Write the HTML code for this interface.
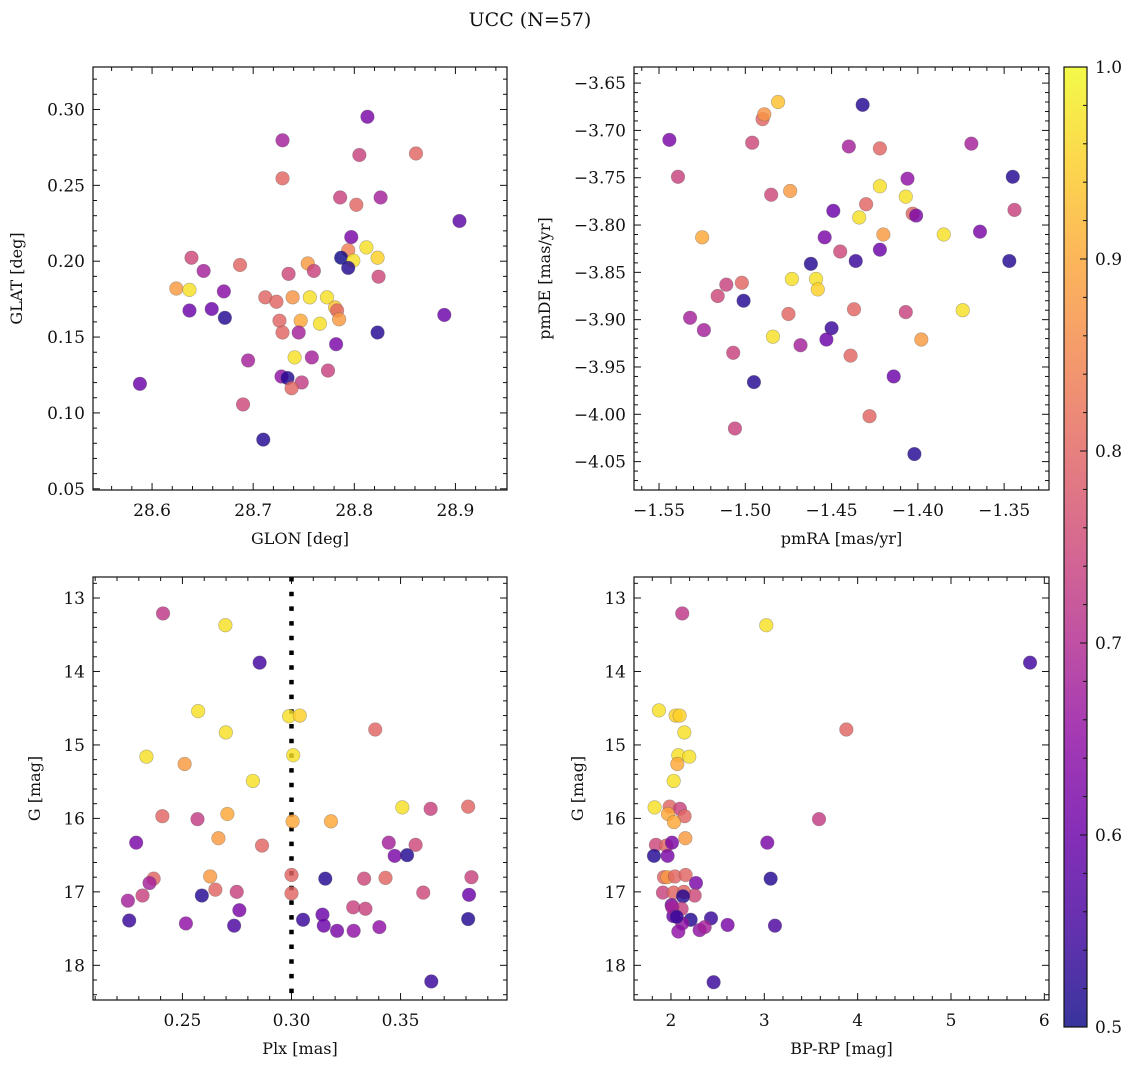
<!DOCTYPE html>
<html><head><meta charset="utf-8">
<style>
html,body{margin:0;padding:0;background:#fff;}
svg text{font-family:"DejaVu Serif","Liberation Serif",serif;fill:#111;}
</style></head>
<body>
<svg id="fig" width="1136" height="1067" viewBox="0 0 1136 1067" xmlns="http://www.w3.org/2000/svg">
<rect width="1136" height="1067" fill="#fff"/>
<text x="530" y="26" text-anchor="middle" font-size="19">UCC (N=57)</text>
</svg>
<script>
// ---- Panel 1: GLON vs GLAT ----
const p1Glon=[28.813,28.729,28.805,28.861,28.729,28.786,28.802,28.826,28.904,28.797,28.812,28.823,28.794,28.787,28.799,28.794,28.824,28.639,28.651,28.687,28.624,28.637,28.671,28.637,28.659,28.672,28.735,28.754,28.760,28.712,28.723,28.739,28.756,28.773,28.781,28.783,28.785,28.726,28.747,28.766,28.729,28.745,28.782,28.823,28.889,28.695,28.741,28.758,28.774,28.728,28.734,28.748,28.738,28.690,28.588,28.710];
const p1Glat=[0.2952,0.2797,0.2700,0.2710,0.2546,0.2420,0.2372,0.2420,0.2265,0.2159,0.2091,0.2023,0.2072,0.2023,0.2004,0.1956,0.1898,0.2023,0.1936,0.1975,0.1820,0.1811,0.1801,0.1675,0.1685,0.1627,0.1917,0.1985,0.1936,0.1762,0.1733,0.1762,0.1762,0.1762,0.1695,0.1675,0.1617,0.1608,0.1608,0.1588,0.1530,0.1530,0.1453,0.1530,0.1646,0.1346,0.1366,0.1366,0.1279,0.1240,0.1230,0.1201,0.1163,0.1056,0.1192,0.0824];
const p1Prob=[0.62,0.68,0.74,0.8,0.8,0.74,0.8,0.68,0.58,0.62,0.97,0.95,0.84,0.5,0.97,0.52,0.75,0.75,0.68,0.8,0.88,0.97,0.64,0.6,0.6,0.52,0.75,0.88,0.74,0.8,0.8,0.87,0.97,0.97,0.93,0.8,0.88,0.8,0.9,0.97,0.8,0.68,0.62,0.52,0.6,0.68,0.97,0.68,0.74,0.65,0.52,0.73,0.8,0.75,0.6,0.52];
// ---- Panel 2: pmRA vs pmDE ----
const p2PmRA=[-1.544,-1.539,-1.525,-1.511,-1.502,-1.516,-1.501,-1.532,-1.524,-1.507,-1.506,-1.496,-1.490,-1.489,-1.481,-1.485,-1.474,-1.495,-1.484,-1.475,-1.473,-1.468,-1.462,-1.459,-1.458,-1.454,-1.450,-1.453,-1.449,-1.445,-1.440,-1.439,-1.437,-1.436,-1.434,-1.432,-1.430,-1.428,-1.422,-1.422,-1.420,-1.422,-1.414,-1.406,-1.407,-1.403,-1.401,-1.407,-1.398,-1.402,-1.385,-1.374,-1.369,-1.364,-1.345,-1.347,-1.344];
const p2PmDE=[-3.710,-3.749,-3.813,-3.863,-3.861,-3.875,-3.880,-3.898,-3.911,-3.935,-4.015,-3.713,-3.688,-3.683,-3.670,-3.768,-3.764,-3.966,-3.918,-3.894,-3.857,-3.927,-3.841,-3.857,-3.868,-3.813,-3.909,-3.921,-3.785,-3.828,-3.717,-3.938,-3.889,-3.838,-3.792,-3.673,-3.778,-4.002,-3.719,-3.759,-3.810,-3.826,-3.960,-3.751,-3.770,-3.788,-3.790,-3.892,-3.921,-4.042,-3.810,-3.890,-3.714,-3.807,-3.749,-3.838,-3.784];
const p2Prob=[0.62,0.74,0.9,0.74,0.8,0.75,0.52,0.68,0.68,0.74,0.74,0.75,0.8,0.87,0.93,0.75,0.88,0.52,0.97,0.8,0.97,0.68,0.52,0.97,0.95,0.62,0.54,0.6,0.6,0.75,0.68,0.8,0.8,0.54,0.97,0.52,0.8,0.8,0.8,0.97,0.88,0.6,0.6,0.65,0.97,0.8,0.62,0.74,0.88,0.52,0.97,0.97,0.68,0.62,0.52,0.52,0.74];
// ---- Panel 3: Plx vs G ----
const p3Plx=[0.2411,0.2697,0.2854,0.2572,0.2699,0.2989,0.3038,0.3384,0.2335,0.2510,0.3008,0.2823,0.2408,0.2569,0.2706,0.3005,0.3181,0.3508,0.3638,0.3810,0.2288,0.2665,0.2865,0.3446,0.3569,0.3473,0.3530,0.2368,0.2349,0.2627,0.3000,0.3155,0.3333,0.3431,0.3825,0.2317,0.2250,0.2589,0.2651,0.2749,0.3000,0.3604,0.3814,0.2761,0.2256,0.2516,0.2737,0.3053,0.3142,0.3148,0.3209,0.3283,0.3339,0.3285,0.3403,0.3810,0.3641];
const p3G=[13.21,13.37,13.88,14.54,14.83,14.61,14.60,14.79,15.16,15.26,15.14,15.49,15.97,16.01,15.94,16.04,16.04,15.85,15.87,15.84,16.33,16.27,16.37,16.33,16.36,16.51,16.50,16.82,16.88,16.79,16.77,16.82,16.82,16.81,16.80,17.05,17.12,17.05,16.97,17.00,17.02,17.01,17.04,17.25,17.39,17.43,17.46,17.38,17.31,17.46,17.53,17.21,17.23,17.53,17.48,17.37,18.22];
const p3Prob=[0.72,0.97,0.55,0.97,0.97,0.97,0.95,0.8,0.97,0.88,0.97,0.97,0.8,0.73,0.9,0.9,0.9,0.97,0.74,0.8,0.62,0.88,0.8,0.68,0.75,0.62,0.52,0.8,0.68,0.88,0.8,0.52,0.75,0.8,0.74,0.74,0.68,0.52,0.8,0.74,0.8,0.75,0.6,0.62,0.54,0.65,0.56,0.54,0.6,0.6,0.62,0.74,0.74,0.65,0.65,0.52,0.54];
const plxCut=[0.30];
// ---- Panel 4: BP-RP vs G ----
const p4BpRp=[2.121,3.021,5.847,3.879,3.586,3.032,3.068,3.114,1.871,2.050,2.093,2.143,2.079,2.196,2.068,2.029,1.825,1.986,2.096,1.968,2.146,2.032,2.154,1.839,1.950,2.011,1.818,1.964,1.925,1.961,2.043,2.157,2.268,1.914,2.029,2.139,2.254,2.129,2.007,2.114,2.025,2.211,2.429,2.121,2.079,2.307,2.361,2.607,2.457,2.014,2.061];
const p4G=[13.21,13.37,13.88,14.79,16.01,16.33,16.82,17.46,14.53,14.60,14.60,14.83,15.14,15.16,15.26,15.49,15.85,15.84,15.87,15.94,15.97,16.05,16.27,16.36,16.37,16.33,16.51,16.51,16.80,16.80,16.79,16.77,16.88,17.01,17.01,17.00,17.05,17.06,17.18,17.23,17.33,17.38,17.36,17.43,17.54,17.52,17.48,17.45,18.23,17.21,17.34];
const p4Prob=[0.72,0.97,0.55,0.8,0.73,0.62,0.52,0.56,0.97,0.95,0.95,0.97,0.97,0.97,0.9,0.97,0.97,0.8,0.74,0.9,0.8,0.9,0.88,0.75,0.8,0.62,0.52,0.62,0.8,0.88,0.8,0.8,0.62,0.74,0.8,0.8,0.75,0.52,0.62,0.74,0.6,0.52,0.54,0.65,0.65,0.65,0.68,0.62,0.54,0.68,0.54];
// ---- colorbar ----
const cbTicks=[0.5,0.6,0.7,0.8,0.9,1.0];

const NS="http://www.w3.org/2000/svg";
const fig=document.getElementById('fig');
function mk(tag,attrs,parent){const e=document.createElementNS(NS,tag);for(const k in attrs)e.setAttribute(k,attrs[k]);(parent||fig).appendChild(e);return e;}
const stops=["#0d0887","#41049d","#6a00a8","#8f0da4","#b12a90","#cc4778","#e16462","#f2844b","#fca636","#fcce25","#f0f921"];
function hx(h){return [parseInt(h.substr(1,2),16),parseInt(h.substr(3,2),16),parseInt(h.substr(5,2),16)];}
function plasma(t){t=Math.max(0,Math.min(1,t));const f=t*10,i=Math.min(9,Math.floor(f)),r=f-i;const a=hx(stops[i]),b=hx(stops[i+1]);return 'rgb('+a.map((v,k)=>Math.round(v+(b[k]-v)*r)).join(',')+')';}
function cmap(p){return plasma((p-0.5)/0.5);}
function fmt(v,d){let s=v.toFixed(d);return s.replace('-','\u2212');}

function panel(o){
  const g=mk('g',{});
  
  
  const X=v=>o.L+(v-o.x0)/(o.x1-o.x0)*(o.R-o.L);
  const Y=v=>o.T+(v-o.y0)/(o.y1-o.y0)*(o.B-o.T);
  const tg=mk('g',{stroke:'#111','stroke-width':1},g);
  for(let v=Math.ceil(o.x0/o.xmin-1e-6)*o.xmin;v<=o.x1+1e-9;v+=o.xmin){
    const isMaj=Math.abs(v/o.xmaj-Math.round(v/o.xmaj))<1e-4;const len=isMaj?7:4;const x=X(v);
    mk('line',{x1:x,x2:x,y1:o.B,y2:o.B-len},tg);mk('line',{x1:x,x2:x,y1:o.T,y2:o.T+len},tg);
  }
  for(let v=Math.ceil(Math.min(o.y0,o.y1)/o.ymin-1e-6)*o.ymin;v<=Math.max(o.y0,o.y1)+1e-9;v+=o.ymin){
    const isMaj=Math.abs(v/o.ymaj-Math.round(v/o.ymaj))<1e-4;const len=isMaj?7:4;const y=Y(v);
    mk('line',{x1:o.L,x2:o.L+len,y1:y,y2:y},tg);mk('line',{x1:o.R,x2:o.R-len,y1:y,y2:y},tg);
  }
  o.xt.forEach(v=>{const t=mk('text',{x:X(v),y:o.B+26,'text-anchor':'middle','font-size':17},g);t.textContent=fmt(v,o.xd);
    
    });
  o.yt.forEach(v=>{const t=mk('text',{x:o.L-8,y:Y(v)+6,'text-anchor':'end','font-size':17},g);t.textContent=fmt(v,o.yd);
    
    });
  const xl=mk('text',{x:(o.L+o.R)/2,y:o.B+54,'text-anchor':'middle','font-size':16},g);xl.textContent=o.xlab;
  
  
  const yl=mk('text',{x:0,y:0,'text-anchor':'middle','font-size':16,transform:'translate('+o.ylx+','+(o.T+o.B)/2+') rotate(-90)'},g);yl.textContent=o.ylab;
  
  
  if(o.vline!==undefined){const l=mk('line',{x1:X(o.vline),x2:X(o.vline),y1:o.T,y2:o.B,stroke:'#000','stroke-width':4.5,'stroke-dasharray':'4.5 10.2'},g);
    
    }
  const pg=mk('g',{},g);
  o.xs.forEach((xv,i)=>{const c=mk('circle',{cx:X(xv),cy:Y(o.ys[i]),r:6.8,fill:cmap(o.cs[i]),'fill-opacity':0.82,stroke:'rgba(90,90,90,0.45)','stroke-width':0.6},pg);
    
    });
  mk('rect',{x:o.L,y:o.T,width:o.R-o.L,height:o.B-o.T,fill:'none',stroke:'#111','stroke-width':1.2},g);
}

panel({name:'glon-glat-panel',L:93,R:507,T:67,B:490,x0:28.5416,x1:28.951,y0:0.328,y1:0.0492,xmaj:0.1,xmin:0.02,ymaj:0.05,ymin:0.01,xt:[28.6,28.7,28.8,28.9],yt:[0.05,0.10,0.15,0.20,0.25,0.30],xd:1,yd:2,xlab:'GLON [deg]',ylab:'GLAT [deg]',ylx:22,xs:p1Glon,ys:p1Glat,cs:p1Prob});
panel({name:'pm-panel',L:634,R:1049,T:67,B:490,x0:-1.5645,x1:-1.324,y0:-3.633,y1:-4.080,xmaj:0.05,xmin:0.01,ymaj:0.05,ymin:0.01,xt:[-1.55,-1.50,-1.45,-1.40,-1.35],yt:[-3.65,-3.70,-3.75,-3.80,-3.85,-3.90,-3.95,-4.00,-4.05],xd:2,yd:2,xlab:'pmRA [mas/yr]',ylab:'pmDE [mas/yr]',ylx:550,xs:p2PmRA,ys:p2PmDE,cs:p2Prob});
panel({name:'plx-g-panel',L:93,R:507,T:577,B:1000,x0:0.209,x1:0.3988,y0:12.714,y1:18.472,xmaj:0.05,xmin:0.01,ymaj:1,ymin:0.2,xt:[0.25,0.30,0.35],yt:[13,14,15,16,17,18],xd:2,yd:0,xlab:'Plx [mas]',ylab:'G [mag]',ylx:40,xs:p3Plx,ys:p3G,cs:p3Prob,vline:plxCut[0]});
panel({name:'cmd-panel',L:634,R:1049,T:577,B:1000,x0:1.604,x1:6.05,y0:12.714,y1:18.472,xmaj:1,xmin:0.2,ymaj:1,ymin:0.2,xt:[2,3,4,5,6],yt:[13,14,15,16,17,18],xd:0,yd:0,xlab:'BP-RP [mag]',ylab:'G [mag]',ylx:583,xs:p4BpRp,ys:p4G,cs:p4Prob});

(function(){
  const L=1064,R=1087,T=67,B=1027;
  const defs=mk('defs',{});const lg=mk('linearGradient',{id:'cbg',x1:0,y1:1,x2:0,y2:0},defs);
  stops.forEach((s,i)=>mk('stop',{offset:(i/10),'stop-color':s,'stop-opacity':0.82},lg));
  const r=mk('rect',{x:L,y:T,width:R-L,height:B-T,fill:'url(#cbg)',stroke:'#111','stroke-width':1.2});
  
  
  const Y=v=>B-(v-0.5)/0.5*(B-T);
  for(let v=0.5;v<=1.0001;v+=0.02){const maj=Math.abs(v*10-Math.round(v*10))<1e-4;const y=Y(v);mk('line',{x1:R,x2:R-(maj?7:4),y1:y,y2:y,stroke:'#111','stroke-width':1});}
  cbTicks.forEach(v=>{const t=mk('text',{x:R+8,y:Y(v)+6,'font-size':17});t.textContent=v.toFixed(1);
    
    });
})();
</script>
</body></html>
